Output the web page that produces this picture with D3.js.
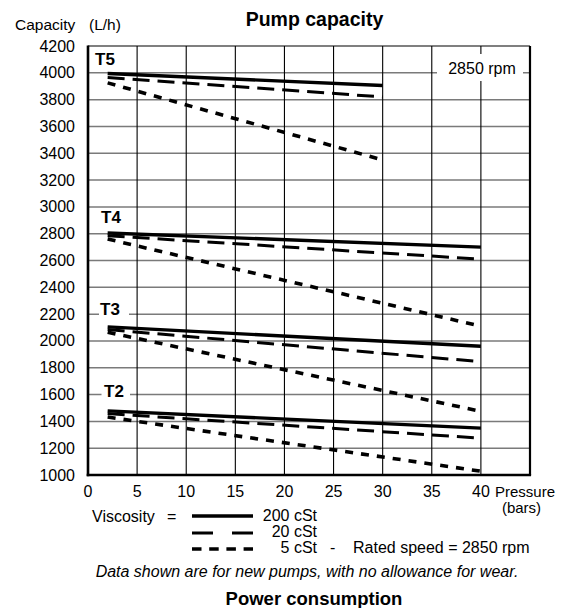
<!DOCTYPE html>
<html><head><meta charset="utf-8">
<script src="https://cdn.jsdelivr.net/npm/d3@7"></script>
<style>body{margin:0;background:#fff}svg{font-family:"Liberation Sans",Arial,sans-serif}</style>
</head><body><svg id="c" width="564" height="608"></svg>
<script>
const xTicks = [0,5,10,15,20,25,30,35,40];
const yTicks = [1000,1200,1400,1600,1800,2000,2200,2400,2600,2800,3000,3200,3400,3600,3800,4000,4200];
const pumps = ["T5","T4","T3","T2"];
const viscosities = ["200 cSt","20 cSt","5 cSt"];
const pressureT5 = [2, 30];
const pressureOthers = [2, 40];
const t5_200 = [3995, 3905];
const t5_20 = [3965, 3820];
const t5_5 = [3925, 3350];
const t4_200 = [2805, 2700];
const t4_20 = [2785, 2610];
const t4_5 = [2760, 2110];
const t3_200 = [2105, 1960];
const t3_20 = [2085, 1845];
const t3_5 = [2065, 1475];
const t2_200 = [1478, 1350];
const t2_20 = [1458, 1275];
const t2_5 = [1432, 1028];

const series = [
  {p:pressureT5, v:t5_200, k:0},{p:pressureT5, v:t5_20, k:1},{p:pressureT5, v:t5_5, k:2},
  {p:pressureOthers, v:t4_200, k:0},{p:pressureOthers, v:t4_20, k:1},{p:pressureOthers, v:t4_5, k:2},
  {p:pressureOthers, v:t3_200, k:0},{p:pressureOthers, v:t3_20, k:1},{p:pressureOthers, v:t3_5, k:2},
  {p:pressureOthers, v:t2_200, k:0},{p:pressureOthers, v:t2_20, k:1},{p:pressureOthers, v:t2_5, k:2}
];
const styles = [
  {w:3.4, dash:null},
  {w:3, dash:"17,8"},
  {w:3.6, dash:"8,8"}
];

const svg = d3.select("#c");
const x = d3.scaleLinear().domain([0,45]).range([88,530]);
const y = d3.scaleLinear().domain([1000,4200]).range([475,46]);

// horizontal grid
svg.append("g").selectAll("line").data(yTicks.slice(1,-1)).join("line")
  .attr("x1",x(0)).attr("x2",x(45)).attr("y1",d=>y(d)).attr("y2",d=>y(d))
  .attr("stroke","#7a7a7a").attr("stroke-width",1.5);
// vertical grid
svg.append("g").selectAll("line").data(xTicks.slice(1)).join("line")
  .attr("x1",d=>x(d)).attr("x2",d=>x(d)).attr("y1",y(4200)).attr("y2",y(1000))
  .attr("stroke","#000").attr("stroke-width",1.1);

// white boxes for labels
function box(x0, y0, w, h){ svg.append("rect").attr("x",x0).attr("y",y0).attr("width",w).attr("height",h).attr("fill","#fff"); }
box(437, 54, 86, 27);
box(99, y(2200)-8, 30, 16);
box(101.5, y(1600)-8, 28.5, 16);

// borders
svg.append("line").attr("x1",x(0)).attr("x2",x(45)).attr("y1",y(4200)).attr("y2",y(4200)).attr("stroke","#000").attr("stroke-width",1.2);
svg.append("line").attr("x1",x(45)).attr("x2",x(45)).attr("y1",y(4200)).attr("y2",y(1000)).attr("stroke","#000").attr("stroke-width",2.2);
svg.append("line").attr("x1",x(0)).attr("x2",x(0)).attr("y1",y(4200)-0.6).attr("y2",y(1000)+1.2).attr("stroke","#000").attr("stroke-width",2.6);
svg.append("line").attr("x1",x(0)-1.3).attr("x2",x(45)+1.1).attr("y1",y(1000)).attr("y2",y(1000)).attr("stroke","#000").attr("stroke-width",2.6);

// y tick labels
svg.append("g").selectAll("text").data(yTicks).join("text")
  .attr("x",75).attr("y",d=>y(d)+5.5).attr("text-anchor","end").attr("font-size",16).text(d=>d);
// x tick labels
svg.append("g").selectAll("text").data(xTicks).join("text")
  .attr("x",d=>x(d)).attr("y",497).attr("text-anchor","middle").attr("font-size",16).text(d=>d);

// lines
const line = d3.line().x(d=>x(d[0])).y(d=>y(d[1]));
svg.append("g").selectAll("path").data(series).join("path")
  .attr("d",s=>line(s.p.map((p,i)=>[p,s.v[i]])))
  .attr("fill","none").attr("stroke","#000")
  .attr("stroke-width",s=>styles[s.k].w)
  .attr("stroke-dasharray",s=>styles[s.k].dash);

// pump labels
const pumpPos = [[95,65],[101,223],[100,315],[104,397]];
svg.append("g").selectAll("text").data(pumps).join("text")
  .attr("x",(d,i)=>pumpPos[i][0]).attr("y",(d,i)=>pumpPos[i][1])
  .attr("font-size",17).attr("font-weight","bold").text(d=>d);

// texts
svg.append("text").attr("x",482).attr("y",74).attr("text-anchor","middle").attr("font-size",16).text("2850 rpm");
svg.append("text").attr("x",314.5).attr("y",26).attr("text-anchor","middle").attr("font-size",19.5).attr("font-weight","bold").text("Pump capacity");
svg.append("text").attr("x",15).attr("y",30).attr("font-size",15.5).text("Capacity");
svg.append("text").attr("x",89).attr("y",30).attr("font-size",15.5).text("(L/h)");
svg.append("text").attr("x",495).attr("y",497).attr("font-size",15).text("Pressure");
svg.append("text").attr("x",521.5).attr("y",513).attr("text-anchor","middle").attr("font-size",15).text("(bars)");

// legend
svg.append("text").attr("x",92).attr("y",521.5).attr("font-size",16).text("Viscosity");
svg.append("text").attr("x",167).attr("y",521.5).attr("font-size",16).text("=");
const legY = [516, 533, 549];
const legBase = [521, 537, 553];
svg.append("g").selectAll("line").data(viscosities).join("line")
  .attr("x1",192).attr("x2",253)
  .attr("y1",(d,i)=>legY[i]).attr("y2",(d,i)=>legY[i])
  .attr("stroke","#000").attr("stroke-width",(d,i)=>styles[i].w)
  .attr("stroke-dasharray",(d,i)=>i===1?"21,19":(i===2?"9.5,7.7":null));
svg.append("g").selectAll("text").data(viscosities).join("text")
  .attr("x",317).attr("y",(d,i)=>legBase[i]).attr("text-anchor","end").attr("font-size",16).text(d=>d);
svg.append("text").attr("x",330).attr("y",553).attr("font-size",16).text("-");
svg.append("text").attr("x",353).attr("y",553).attr("font-size",16).text("Rated speed = 2850 rpm");
svg.append("text").attr("x",307).attr("y",577).attr("text-anchor","middle").attr("font-size",16).attr("font-style","italic").text("Data shown are for new pumps, with no allowance for wear.");
svg.append("text").attr("x",314).attr("y",605).attr("text-anchor","middle").attr("font-size",18.5).attr("font-weight","bold").text("Power  consumption");
</script></body></html>
